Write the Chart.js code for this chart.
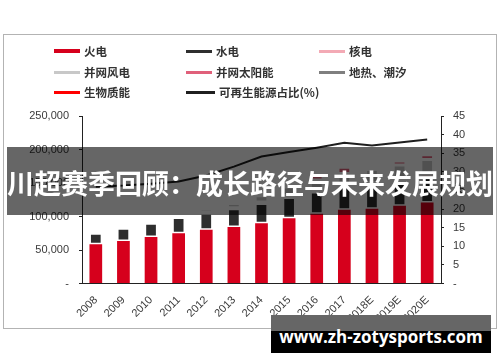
<!DOCTYPE html>
<html lang="zh-CN">
<head>
<meta charset="utf-8">
<title>装机容量与可再生能源占比</title>
<script src="https://cdn.jsdelivr.net/npm/chart.js@4.4.1/dist/chart.umd.min.js"></script>
<style>
  html, body { margin: 0; padding: 0; background: #fff; }
  #wrap { position: relative; width: 500px; height: 362px; overflow: hidden; }
  #chart { position: absolute; left: 0; top: 0; }
  .frame { position: absolute; left: 3px; top: 34px; width: 492px; height: 293px; border: 1px solid #b3b3b3; pointer-events: none; }
  .leg { position: absolute; display: flex; align-items: center; white-space: nowrap;
         font: bold 11.5px "Noto Sans CJK SC", sans-serif; color: #333; transform: translateY(-50%); }
  .leg i { display: block; margin-right: 4px; }
  .banner { position: absolute; left: 7px; top: 147px; width: 486px; height: 68px;
            background: rgba(0,0,0,0.6); color: #fff; text-align: center;
            font: bold 27px "Noto Sans CJK SC", sans-serif; line-height: 72px; white-space: nowrap; }
  .mark { position: absolute; left: 271px; top: 315px; width: 220px; height: 38px;
          background: linear-gradient(#666 0, #666 16px, #000 16px, #000 100%);
          color: #fff; text-align: center; font: bold 17px "Open Sans", sans-serif; line-height: 44px; white-space: nowrap; }
</style>
</head>
<body>
<div id="wrap">
  <canvas id="chart" width="500" height="362"></canvas>
  <div class="frame"></div>
  <div id="legend"></div>
  <div class="banner">川超赛季回顾：成长路径与未来发展规划</div>
  <div class="mark">www.zh-zotysports.com</div>
</div>
<script>
// ==========================
// Données
// ==========================
const years = ['2008','2009','2010','2011','2012','2013','2014','2015','2016','2017','2018E','2019E','2020E'];

const thermal = [58500, 63500, 69500, 75000, 80400, 84500, 90000, 97500, 104000, 110000, 111500, 116000, 121000];
const hydro   = [16500, 19000, 20500, 23400, 24600, 27000, 29500, 31000, 32500, 34000, 35000, 35500, 37000];
const nuclear = [900, 900, 1100, 1250, 1250, 1500, 2000, 2700, 3400, 3600, 4000, 4500, 5000];
const wind    = [850, 1750, 2950, 4600, 4800, 6500, 9600, 13000, 14700, 16400, 19500, 21000, 22000];
const solar   = [0, 0, 30, 200, 1100, 1000, 2500, 4200, 7600, 9500, 4500, 6000, 7000];
const geo     = [3, 3, 3, 3, 3, 3, 3, 3, 3, 3, 3, 3, 3];
const biomass = [300, 300, 300, 400, 400, 400, 900, 1000, 1200, 2000, 1500, 1500, 1500];
const renewShare = [26.0, 26.3, 26.8, 27.4, 29.0, 31.4, 34.1, 35.3, 36.5, 37.8, 37.1, 37.9, 38.7];

const leftMax = 250000, leftStep = 50000;
const rightMax = 45, rightStep = 5;

const seriesNames = ['火电', '水电', '核电', '并网风电', '并网太阳能', '地热、潮汐', '生物质能', '可再生能源占比(%)'];
const seriesColors = ['#d6001c', '#2e2e2e', '#f3aab5', '#c8c8c8', '#e0607a', '#7f7f7f', '#ff0000', '#1f1f1f'];

// ==========================
// Légende HTML (3 colonnes)
// ==========================
const legendEl = document.getElementById('legend');
const colX = [54, 186, 319];
const rowY = [51, 72, 92];
seriesNames.forEach((name, i) => {
  const item = document.createElement('div');
  item.className = 'leg';
  item.style.left = colX[i % 3] + 'px';
  item.style.top = rowY[Math.floor(i / 3)] + 'px';
  const sw = document.createElement('i');
  sw.style.background = seriesColors[i];
  sw.style.width = (i === 7 ? 29 : 26) + 'px';
  sw.style.height = (i === 0 ? 4.5 : 3) + 'px';
  item.appendChild(sw);
  item.appendChild(document.createTextNode(name));
  legendEl.appendChild(item);
});

// ==========================
// Graphique
// ==========================
const tickFont = { family: '"Liberation Sans", Arial, sans-serif', size: 11 };
const tickColor = '#3a3a3a';
const axisColor = '#222';

const barData = [thermal, hydro, nuclear, wind, solar, geo, biomass];
const barSets = barData.map((arr, i) => ({
  type: 'bar',
  label: seriesNames[i],
  data: arr,
  backgroundColor: seriesColors[i],
  borderColor: '#fff',
  borderWidth: i === 0 ? 0 : 1.5,
  borderSkipped: false,
  barPercentage: 0.46,
  categoryPercentage: 1,
  yAxisID: 'y',
  order: 1
}));

new Chart(document.getElementById('chart'), {
  data: {
    labels: years,
    datasets: [
      ...barSets,
      {
        type: 'line',
        label: seriesNames[7],
        data: renewShare,
        borderColor: seriesColors[7],
        borderWidth: 2,
        pointRadius: 0,
        tension: 0,
        yAxisID: 'y1',
        order: 0
      }
    ]
  },
  options: {
    responsive: false,
    animation: false,
    devicePixelRatio: 1,
    layout: { padding: { top: 116, left: 0, right: 0, bottom: 0 } },
    plugins: { legend: { display: false }, tooltip: { enabled: false } },
    scales: {
      x: {
        stacked: true,
        grid: { display: false },
        border: { display: true, color: axisColor },
        ticks: { minRotation: 45, maxRotation: 45, padding: 2, color: tickColor, font: tickFont },
        afterFit: s => { s.height = 362 - 283.5; }
      },
      y: {
        stacked: true,
        position: 'left',
        min: 0, max: leftMax,
        grid: { drawOnChartArea: false, tickLength: 3, color: axisColor },
        border: { color: axisColor },
        ticks: {
          stepSize: leftStep, padding: 10, color: tickColor, font: tickFont,
          callback: v => v === 0 ? '-' : v.toLocaleString('en-US')
        },
        afterFit: s => { s.width = 82; }
      },
      y1: {
        position: 'right',
        min: 0, max: rightMax,
        grid: { drawOnChartArea: false, tickLength: 3, color: axisColor },
        border: { color: axisColor },
        ticks: {
          stepSize: rightStep, padding: 9, color: tickColor, font: tickFont,
          callback: v => v === 0 ? '-' : v
        },
        afterFit: s => { s.width = 500 - 441; }
      }
    }
  }
});
</script>
</body>
</html>
